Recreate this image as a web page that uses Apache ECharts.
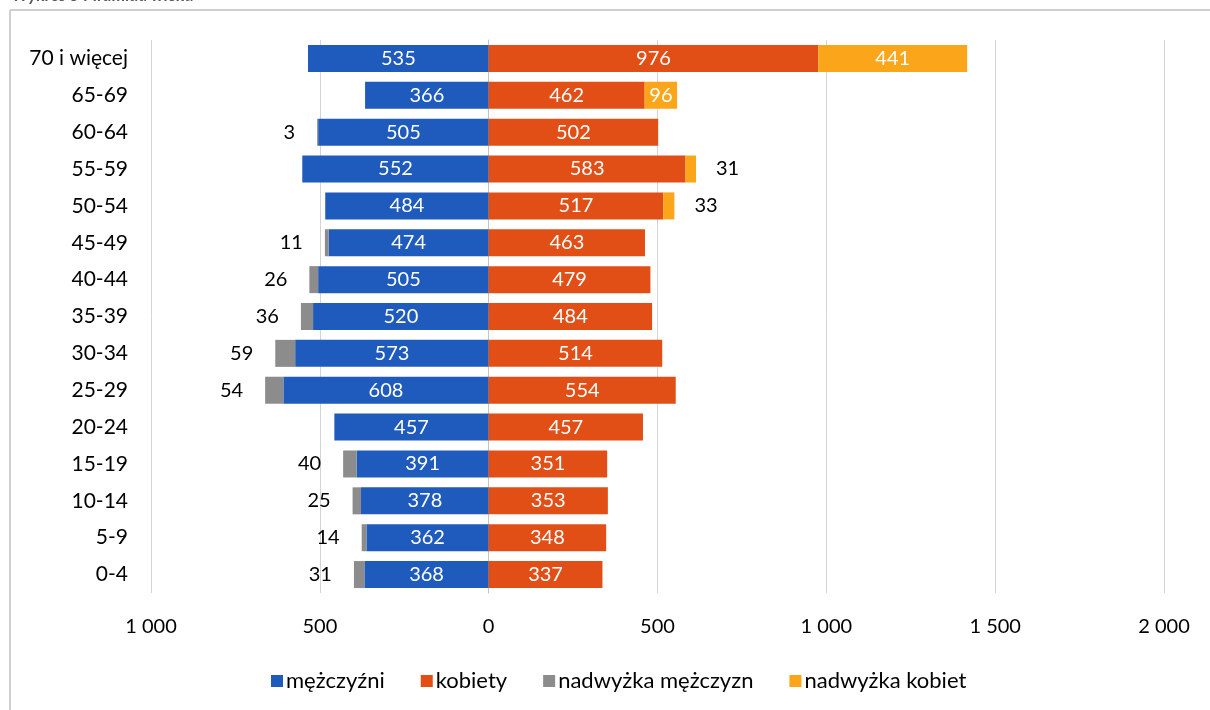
<!DOCTYPE html>
<html>
<head>
<meta charset="utf-8">
<script src="https://cdn.jsdelivr.net/npm/echarts@6/dist/echarts.min.js"></script>
<style>
  html, body { margin: 0; padding: 0; background: #ffffff; }
  #chart { width: 1210px; height: 710px; }
</style>
</head>
<body>
<div id="chart"></div>
<script>
// Age groups, top to bottom
const ageGroups = ['70 i więcej', '65-69', '60-64', '55-59', '50-54', '45-49', '40-44',
  '35-39', '30-34', '25-29', '20-24', '15-19', '10-14', '5-9', '0-4'];

// Population by sex (men drawn to the left)
const men          = [535, 366, 505, 552, 484, 474, 505, 520, 573, 608, 457, 391, 378, 362, 368];
const women        = [976, 462, 502, 583, 517, 463, 479, 484, 514, 554, 457, 351, 353, 348, 337];
const menSurplus   = [0, 0, 3, 0, 0, 11, 26, 36, 59, 54, 0, 40, 25, 14, 31];
const womenSurplus = [441, 96, 0, 31, 33, 0, 0, 0, 0, 0, 0, 0, 0, 0, 0];

// Axis tick values
const axisMin = -1000, axisMax = 2000, axisStep = 500;

const FONT = 'Lato, "Open Sans", sans-serif';
const C_MEN = '#1f5bbd', C_WOMEN = '#e14f17', C_MSUR = '#8c8c8c', C_WSUR = '#fba51a';

const fmtThousands = v => {
  const a = Math.abs(v);
  return a >= 1000 ? Math.floor(a / 1000) + ' ' + String(a % 1000).padStart(3, '0') : String(a);
};

const chart = echarts.init(document.getElementById('chart'), null, { renderer: 'canvas' });

const barW = 27;
const LABEL_SIZE = 20;

// surplus bars: wide enough ones keep their label inside, narrow ones get it outside
const womenSurplusData = womenSurplus.map(v => {
  if (!v) return null;
  const inside = v >= 90;
  return {
    value: v,
    label: inside
      ? { position: 'inside', color: '#ffffff' }
      : { position: 'right', color: '#000000', distance: 20 }
  };
});

chart.setOption({
  backgroundColor: '#ffffff',
  animation: false,
  textStyle: { fontFamily: FONT },
  grid: { left: 151, right: 46, top: 40, bottom: 117, containLabel: false },
  legend: {
    top: 665,
    left: 266,
    itemWidth: 12,
    itemHeight: 12,
    itemGap: 36,
    icon: 'rect',
    textStyle: { fontSize: 22, color: '#000000', fontFamily: FONT, padding: [0, 0, 0, -2] },
    data: ['mężczyźni', 'kobiety', 'nadwyżka mężczyzn', 'nadwyżka kobiet']
  },
  xAxis: {
    type: 'value',
    min: axisMin,
    max: axisMax,
    interval: axisStep,
    axisLine: { show: false },
    axisTick: { show: false },
    axisLabel: { fontSize: 20, color: '#000000', margin: 24, formatter: fmtThousands, fontFamily: FONT },
    splitLine: { show: true, lineStyle: { color: '#d4d4d4', width: 1 } }
  },
  yAxis: {
    type: 'category',
    inverse: true,
    data: ageGroups,
    axisTick: { show: false },
    axisLine: { show: true, lineStyle: { color: '#c4c4c4', width: 1 } },
    axisLabel: { fontSize: 21, color: '#000000', fontFamily: FONT, margin: 23, align: 'right' }
  },
  graphic: [
    { type: 'line', shape: { x1: 10, y1: 10, x2: 1210, y2: 10 }, style: { stroke: '#cfcfcf', lineWidth: 2 } },
    { type: 'line', shape: { x1: 10, y1: 10, x2: 10, y2: 710 }, style: { stroke: '#cfcfcf', lineWidth: 2 } },
    { type: 'text', left: 12, top: -13,
      style: { text: 'Wykres 5 Piramida wieku', font: 'italic bold 17px ' + FONT, fill: '#595959' } }
  ],
  series: [
    {
      name: 'mężczyźni', type: 'bar', stack: 'men', barWidth: barW,
      itemStyle: { color: C_MEN },
      label: { show: true, position: 'inside', color: '#ffffff', fontSize: LABEL_SIZE, fontFamily: FONT,
               formatter: p => fmtThousands(p.value) },
      data: men.map(v => -v)
    },
    {
      name: 'nadwyżka mężczyzn', type: 'bar', stack: 'men', barWidth: barW,
      itemStyle: { color: C_MSUR },
      label: { show: true, position: 'left', distance: 22, color: '#000000', fontSize: LABEL_SIZE, fontFamily: FONT,
               formatter: p => fmtThousands(p.value) },
      data: menSurplus.map(v => (v ? -v : null))
    },
    {
      name: 'kobiety', type: 'bar', stack: 'women', barWidth: barW, barGap: '-100%',
      itemStyle: { color: C_WOMEN },
      label: { show: true, position: 'inside', color: '#ffffff', fontSize: LABEL_SIZE, fontFamily: FONT,
               formatter: p => fmtThousands(p.value) },
      data: women
    },
    {
      name: 'nadwyżka kobiet', type: 'bar', stack: 'women', barWidth: barW, barGap: '-100%',
      itemStyle: { color: C_WSUR },
      label: { show: true, fontSize: LABEL_SIZE, fontFamily: FONT,
               formatter: p => fmtThousands(p.value) },
      data: womenSurplusData
    }
  ]
});
</script>
</body>
</html>
